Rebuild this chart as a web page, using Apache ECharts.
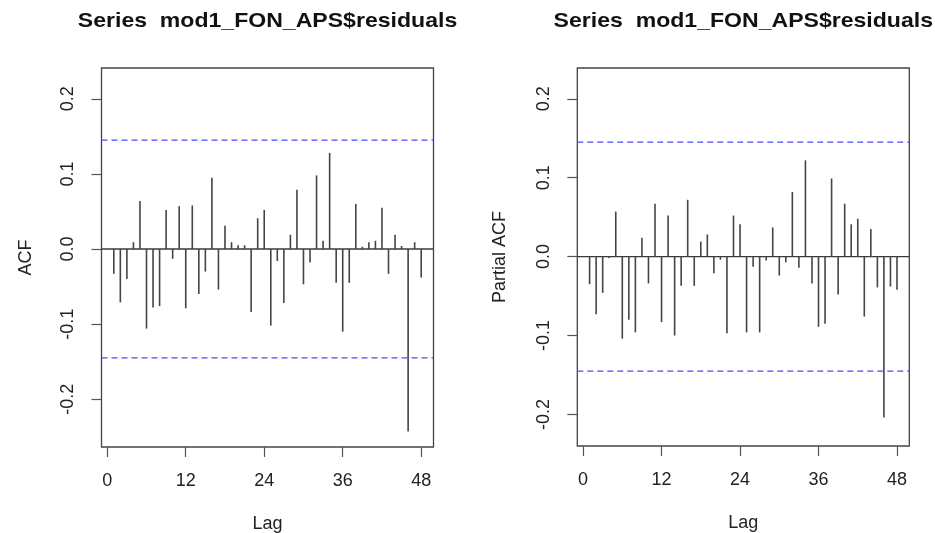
<!DOCTYPE html>
<html>
<head>
<meta charset="utf-8">
<script src="https://cdn.jsdelivr.net/npm/echarts@6/dist/echarts.min.js"></script>
<style>html,body{margin:0;padding:0;background:#fff}#c{width:935px;height:533px}</style>
</head>
<body>
<div id="c"></div>
<script>
const lags = [1,2,3,4,5,6,7,8,9,10,11,12,13,14,15,16,17,18,19,20,21,22,23,24,25,26,27,28,29,30,31,32,33,34,35,36,37,38,39,40,41,42,43,44,45,46,47,48];
const acfValues = [-0.033,-0.071,-0.040,0.009,0.064,-0.106,-0.078,-0.076,0.052,-0.013,0.057,-0.079,0.058,-0.060,-0.030,0.095,-0.054,0.031,0.009,0.005,0.005,-0.084,0.041,0.052,-0.102,-0.016,-0.072,0.019,0.079,-0.047,-0.018,0.098,0.011,0.128,-0.045,-0.110,-0.045,0.060,0.003,0.009,0.011,0.055,-0.033,0.019,0.004,-0.243,0.009,-0.038];
const pacfValues = [-0.035,-0.073,-0.046,-0.002,0.057,-0.104,-0.080,-0.096,0.024,-0.034,0.067,-0.083,0.052,-0.100,-0.037,0.072,-0.037,0.019,0.028,-0.021,-0.004,-0.097,0.052,0.041,-0.096,-0.013,-0.096,-0.005,0.037,-0.024,-0.007,0.082,-0.014,0.122,-0.034,-0.089,-0.085,0.099,-0.048,0.067,0.041,0.048,-0.076,0.035,-0.039,-0.204,-0.038,-0.042];
const confLimit = 0.145;
const refLevels = [0, confLimit, -confLimit];
const xTicks = [0,12,24,36,48];
const yTicks = [-0.2,-0.1,0.0,0.1,0.2];
const titleText = 'Series  mod1_FON_APS$residuals';
const yNames = ['ACF','Partial ACF'];
const xName = 'Lag';

const FONT = "'Liberation Sans', Arial, sans-serif";
const TXT = '#222';
const chart = echarts.init(document.getElementById('c'), null, {renderer:'canvas'});

function spike(params, api){
  const x = api.value(0), y = api.value(1);
  const p0 = api.coord([x,0]);
  const p1 = api.coord([x,y]);
  return {type:'line', shape:{x1:p0[0],y1:p0[1],x2:p1[0],y2:p1[1]}, style:{stroke:'#444', lineWidth:1.6}};
}
function hline(params, api){
  const v = api.value(0);
  const cs = params.coordSys;
  const py = api.coord([0, v])[1];
  const isZero = Math.abs(v) < 1e-12;
  return {type:'line', shape:{x1:cs.x, y1:py, x2:cs.x+cs.width, y2:py},
    style: isZero ? {stroke:'#3a3a3a', lineWidth:1.3}
                  : {stroke:'#4a4aff', lineWidth:1.3, lineDash:[6,4]}};
}

const grids = [
  {left:101.5, width:332, top:68, height:379},
  {left:577.3, width:332, top:68, height:378}
];
const yRanges = [[-0.2636,0.241],[-0.240,0.239]];

const xAxes = grids.map((g,i)=>({
  type:'value', gridIndex:i, min:-0.88, max:49.88,
  name:xName, nameLocation:'middle', nameGap:68,
  nameTextStyle:{fontFamily:FONT, fontSize:18, color:TXT},
  axisLine:{show:false, onZero:false},
  splitLine:{show:false},
  axisTick:{show:true, length:10, customValues:xTicks, lineStyle:{color:'#555', width:1.2}},
  axisLabel:{customValues:xTicks, fontFamily:FONT, fontSize:18, color:TXT, margin:25}
}));
const yAxes = grids.map((g,i)=>({
  type:'value', gridIndex:i, min:yRanges[i][0], max:yRanges[i][1],
  name:yNames[i], nameLocation:'middle', nameGap: i===0?66:68, nameRotate:90,
  nameTextStyle:{fontFamily:FONT, fontSize:18, color:TXT},
  axisLine:{show:false, onZero:false},
  splitLine:{show:false},
  axisTick:{show:true, length:10, customValues:yTicks, lineStyle:{color:'#555', width:1.2}},
  axisLabel:{customValues:yTicks, rotate:90, fontFamily:FONT, fontSize:18, color:TXT, margin:24,
    formatter:(v)=>(Math.abs(v)<1e-9?0:v).toFixed(1)}
}));

const seriesData = [acfValues, pacfValues];
const series = [];
seriesData.forEach((vals,i)=>{
  series.push({
    type:'custom', xAxisIndex:i, yAxisIndex:i, silent:true, clip:false,
    renderItem:hline,
    encode:{x:-1, y:0},
    data: refLevels.map(v=>[v])
  });
  series.push({
    type:'custom', xAxisIndex:i, yAxisIndex:i, silent:true,
    renderItem:spike,
    data: lags.map((l,k)=>[l, vals[k]])
  });
});

const titleCenters = [267.5, 743.3];
chart.setOption({
  animation:false,
  backgroundColor:'#fff',
  graphic: titleCenters.map(cx=>({
    type:'text', x:cx, y:21, scaleX:1.125, silent:true,
    style:{text:titleText, font:"bold 20.5px 'Liberation Sans', Arial, sans-serif", fill:'#111', textAlign:'center', textVerticalAlign:'middle'}
  })),
  grid: grids.map(g=>Object.assign({show:true, borderColor:'#444', borderWidth:1.3, backgroundColor:'transparent', outerBoundsMode:'none', containLabel:false}, g)),
  xAxis:xAxes,
  yAxis:yAxes,
  series:series
});
</script>
</body>
</html>
